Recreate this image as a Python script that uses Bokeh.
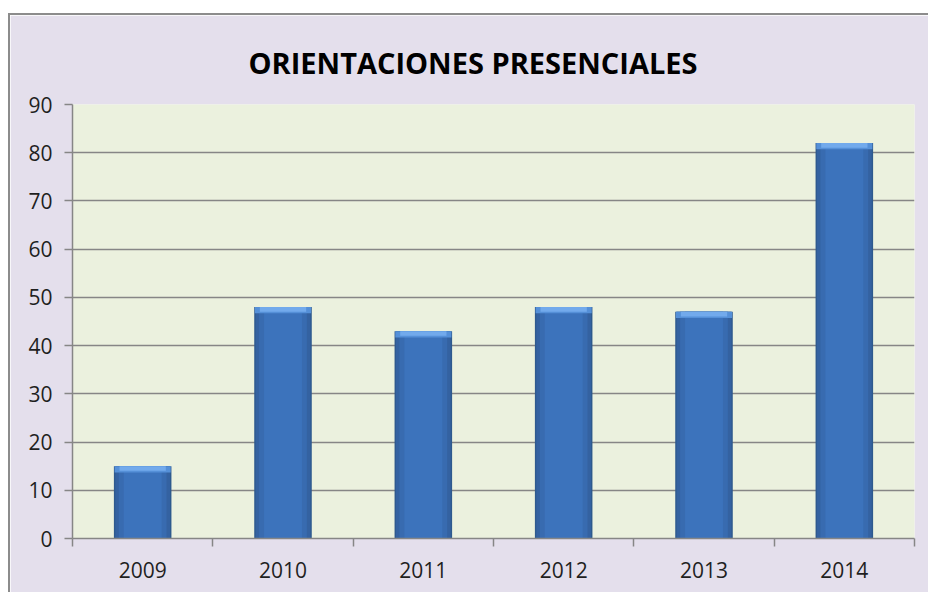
from bokeh.plotting import figure
from bokeh.models import Range1d, LinearAxis, FixedTicker, Grid, ColumnDataSource
from bokeh.embed import file_html
from bokeh.resources import INLINE

# ---- data ----
years = ["2009", "2010", "2011", "2012", "2013", "2014"]
values = [15, 48, 43, 48, 47, 82]
y_ticks = [0, 10, 20, 30, 40, 50, 60, 70, 80, 90]
title_text = "ORIENTACIONES PRESENCIALES"

xpos = [i + 0.5 for i in range(len(years))]
cap = 1.3
src = ColumnDataSource(dict(
    x=xpos,
    top=values,
    cap_bottom=[v - cap for v in values],
    cap2_bottom=[v - cap * 0.75 for v in values],
))

BG = "#E4DFEC"
PLOT_BG = "#EBF1DE"
GRID = "#868686"
FONT = "Open Sans"
TXT = "#1f1f1f"

p = figure(width=920, height=579, output_backend="svg", toolbar_location=None,
           x_range=Range1d(0, len(years)), y_range=Range1d(0, 90),
           x_axis_type=None, y_axis_type=None,
           min_border_left=62, min_border_right=16, min_border_top=89, min_border_bottom=56,
           background_fill_color=PLOT_BG, border_fill_color=BG, outline_line_color=None)
p.margin = (13, 0, 0, 8)
p.styles = {"border-top": "2px solid #8C8C8C", "border-left": "2px solid #8C8C8C"}

p.title.text = title_text
p.title.align = "left"
p.title.offset = 176
p.title.text_font = FONT
p.title.text_font_style = "bold"
p.title.text_font_size = "29px"
p.title.text_color = "#000000"
p.title.standoff = 46

# y axis
yaxis = LinearAxis(ticker=FixedTicker(ticks=y_ticks))
yaxis.axis_line_color = GRID
yaxis.axis_line_width = 1.5
yaxis.major_tick_line_color = GRID
yaxis.major_tick_line_width = 1.5
yaxis.major_tick_out = 8
yaxis.major_tick_in = 0
yaxis.minor_tick_line_color = None
yaxis.major_label_text_font = FONT
yaxis.major_label_text_font_size = "21px"
yaxis.major_label_text_color = TXT
yaxis.major_label_standoff = 12
p.add_layout(yaxis, "left")

p.add_layout(Grid(dimension=1, ticker=yaxis.ticker, grid_line_color=GRID, grid_line_width=1.5))

# x axis: boundary tick marks
tick_axis = LinearAxis(ticker=FixedTicker(ticks=list(range(len(years) + 1))))
tick_axis.major_label_overrides = {i: "" for i in range(len(years) + 1)}
tick_axis.axis_line_color = GRID
tick_axis.axis_line_width = 1.5
tick_axis.major_tick_line_color = GRID
tick_axis.major_tick_line_width = 1.5
tick_axis.major_tick_out = 8
tick_axis.major_tick_in = 0
tick_axis.minor_tick_line_color = None
tick_axis.major_label_standoff = 0
tick_axis.major_label_text_font_size = "1px"
p.add_layout(tick_axis, "below")

# x axis: category labels
label_axis = LinearAxis(ticker=FixedTicker(ticks=xpos))
label_axis.major_label_overrides = {x: y for x, y in zip(xpos, years)}
label_axis.axis_line_color = None
label_axis.major_tick_line_color = None
label_axis.minor_tick_line_color = None
label_axis.major_tick_out = 0
label_axis.major_tick_in = 0
label_axis.major_label_standoff = 15
label_axis.major_label_text_font = FONT
label_axis.major_label_text_font_size = "21px"
label_axis.major_label_text_color = TXT
p.add_layout(label_axis, "below")

# bars (layered to imitate the bevelled Excel look)
p.vbar(x="x", top="top", bottom=0, width=0.41, source=src, fill_color="#2E5A8E", line_color=None)
p.vbar(x="x", top="top", bottom=0, width=0.39, source=src, fill_color="#3462A1", line_color=None)
p.vbar(x="x", top="top", bottom=0, width=0.34, source=src, fill_color="#386BB0", line_color=None)
p.vbar(x="x", top="top", bottom=0, width=0.27, source=src, fill_color="#3C73BC", line_color=None)
p.vbar(x="x", top="top", bottom="cap_bottom", width=0.40, source=src, fill_color="#5590D8", line_color=None)
p.vbar(x="x", top="top", bottom="cap2_bottom", width=0.33, source=src, fill_color="#72AAEC", line_color=None)

open("out.html", "w").write(file_html(p, INLINE))
